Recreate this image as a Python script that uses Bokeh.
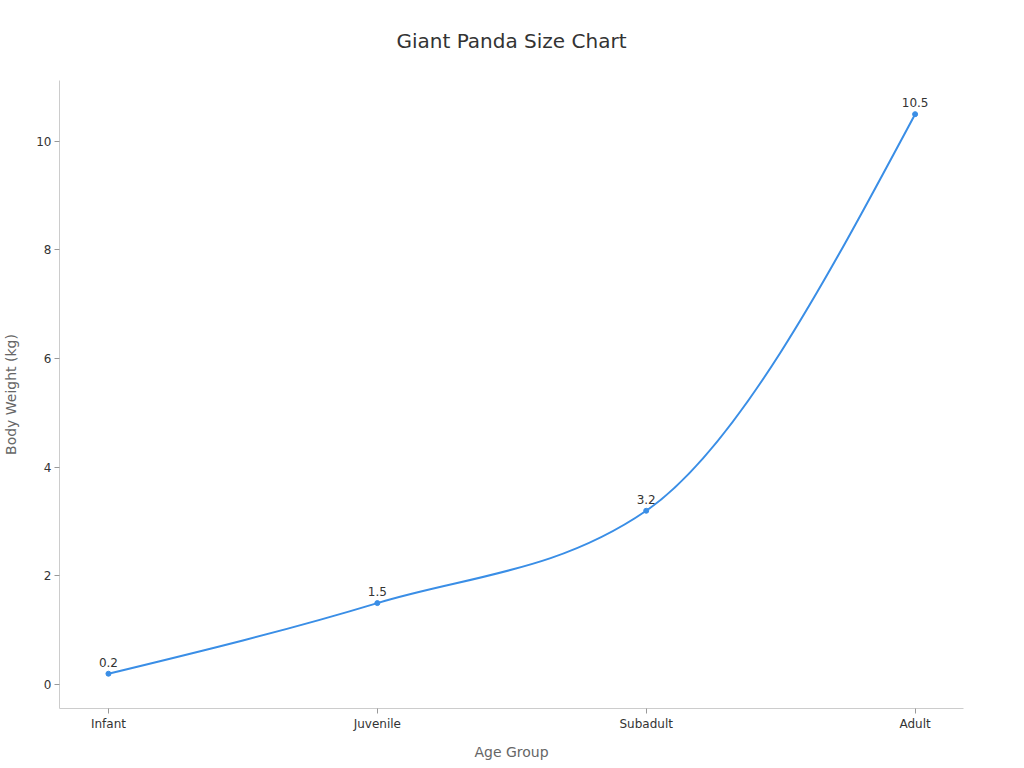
from bokeh.plotting import figure
from bokeh.models import ColumnDataSource, FixedTicker
from bokeh.core.properties import value
from bokeh.embed import file_html
from bokeh.resources import INLINE

categories = ["Infant", "Juvenile", "Subadult", "Adult"]
weights = [0.2, 1.5, 3.2, 10.5]
y_ticks = [0, 2, 4, 6, 8, 10]

FONT = "DejaVu Sans"
COLOR = "#3a8ee6"

p = figure(width=1000, height=752, frame_width=904, frame_height=628,
           x_range=(-0.182, 3.18), y_range=(-0.44, 11.12),
           output_backend="svg", toolbar_location=None,
           min_border_left=59, min_border_right=45, min_border_top=80, min_border_bottom=44)
p.title.text = "Giant Panda Size Chart"
p.title.align = "center"
p.title.vertical_align = "top"
p.title.text_font = FONT
p.title.text_font_size = "20px"
p.title.text_font_style = "normal"
p.title.text_color = "#333333"
p.title.standoff = 52

p.outline_line_color = None
p.xgrid.visible = False
p.ygrid.visible = False

xs = list(range(len(categories)))
n = len(xs)


def sign(v):
    return (v > 0) - (v < 0)


# monotone-x cubic smoothing (Hermite tangents -> cubic bezier control points)
secants = [(weights[i + 1] - weights[i]) / (xs[i + 1] - xs[i]) for i in range(n - 1)]
tangents = [0.0] * n
for i in range(1, n - 1):
    h0 = xs[i] - xs[i - 1]
    h1 = xs[i + 1] - xs[i]
    s0, s1 = secants[i - 1], secants[i]
    pp = (s0 * h1 + s1 * h0) / (h0 + h1)
    tangents[i] = (sign(s0) + sign(s1)) * min(abs(s0), abs(s1), 0.5 * abs(pp))
tangents[0] = (3 * secants[0] - tangents[1]) / 2
tangents[-1] = (3 * secants[-1] - tangents[-2]) / 2

x0 = xs[:-1]
x1 = xs[1:]
y0 = weights[:-1]
y1 = weights[1:]
hs = [b - a for a, b in zip(x0, x1)]
bez = ColumnDataSource(dict(
    x0=x0, y0=y0, x1=x1, y1=y1,
    cx0=[a + h / 3 for a, h in zip(x0, hs)],
    cy0=[y + tangents[i] * hs[i] / 3 for i, y in enumerate(y0)],
    cx1=[b - h / 3 for b, h in zip(x1, hs)],
    cy1=[y - tangents[i + 1] * hs[i] / 3 for i, y in enumerate(y1)],
))
p.bezier(x0="x0", y0="y0", x1="x1", y1="y1", cx0="cx0", cy0="cy0", cx1="cx1", cy1="cy1",
         source=bez, line_color=COLOR, line_width=2)

src = ColumnDataSource(dict(x=xs, y=weights, lbl=[str(w) for w in weights]))
p.scatter("x", "y", source=src, size=5, color=COLOR)
p.text("x", "y", text="lbl", source=src, text_align="center", text_baseline="bottom",
       y_offset=-7, text_font=value(FONT), text_font_size="12px", text_color="#333333")

# axes
p.xaxis.ticker = FixedTicker(ticks=xs)
p.xaxis.major_label_overrides = {i: c for i, c in enumerate(categories)}
p.yaxis.ticker = FixedTicker(ticks=y_ticks)
for ax in (p.xaxis, p.yaxis):
    ax.axis_line_color = "#cccccc"
    ax.major_tick_line_color = "#999999"
    ax.major_tick_out = 5
    ax.major_tick_in = 0
    ax.minor_tick_line_color = None
    ax.major_label_text_font = FONT
    ax.major_label_text_font_size = "12px"
    ax.major_label_text_color = "#333333"
    ax.axis_label_text_font = FONT
    ax.axis_label_text_font_size = "14px"
    ax.axis_label_text_font_style = "normal"
    ax.axis_label_text_color = "#666666"
p.xaxis.axis_label = "Age Group"
p.yaxis.axis_label = "Body Weight (kg)"
p.xaxis.major_label_standoff = 3
p.xaxis.axis_label_standoff = 10
p.yaxis.major_label_standoff = 3
p.yaxis.axis_label_standoff = 14

open("out.html", "w").write(file_html(p, INLINE))
